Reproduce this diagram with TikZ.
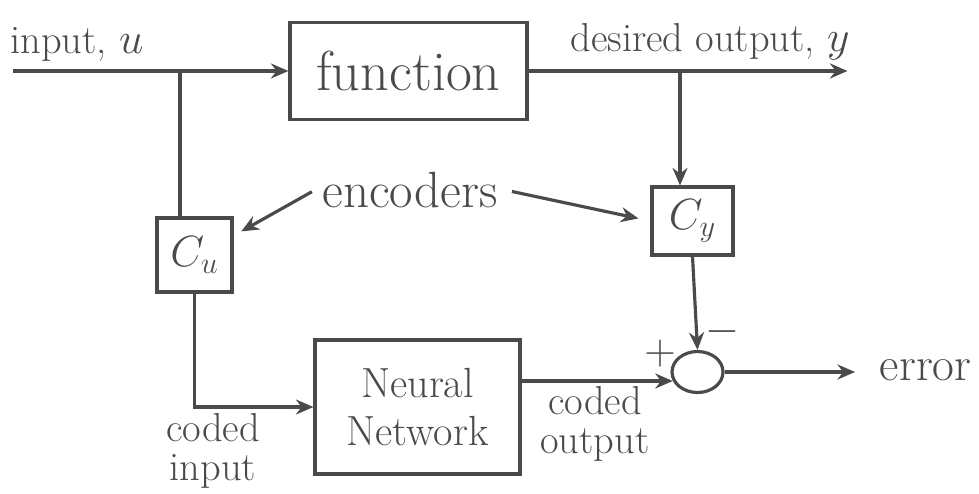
\documentclass[tikz,border=0pt]{standalone}
\usetikzlibrary{arrows.meta, shapes.geometric, calc}
\definecolor{cink}{HTML}{4A4A4A}
\tikzset{
  every picture/.style={line width=1.8pt},
  box/.style={draw=cink, line width=1.8pt, text=cink, inner sep=0pt, align=center, font=\fontsize{24}{27}\selectfont},
  arrow/.style={-{Stealth[length=3.5mm, width=3mm]}, draw=cink, line width=1.8pt},
  wire/.style={draw=cink, line width=1.8pt},
  note/.style={text=cink, font=\fontsize{23}{22}\selectfont, align=center},
}

\begin{document}
\begin{tikzpicture}[sum/.style={ellipse, draw=cink, line width=1.8pt, minimum width=1.02cm, minimum height=0.82cm, inner sep=0pt},
                    big/.style={font=\fontsize{32}{36}\selectfont}]
  \useasboundingbox (0,0) rectangle (19.58,9.86);
  % upper path: input -> function -> desired output
  \node[box, big, minimum width=4.74cm, minimum height=1.94cm] (fn) at (8.17,8.44) {function};
  \coordinate (in) at (0.26,8.44); \coordinate (out) at (16.95,8.44);
  \coordinate (ubr) at (3.6,8.44); \coordinate (ybr) at (13.6,8.44);
  \draw[arrow] (in) -- (fn);
  \draw[arrow] (fn) -- (out);
  \node[note] (inlbl) at (1.54,8.98) {input, $u$};
  \node[note] (ylbl) at (14.2,9.02) {desired output, $y$};
  % encoders
  \node[box, minimum width=1.5cm, minimum height=1.48cm] (cu) at (3.89,4.76) {$C_u$};
  \node[box, minimum width=1.62cm, minimum height=1.36cm] (cy) at (13.85,5.44) {$C_y$};
  \draw[wire] (ubr) -- (ubr |- cu.north);
  \draw[arrow] (ybr) -- (ybr |- cy.north);
  \node[note, font=\fontsize{29}{32}\selectfont] (enc) at (8.2,6.06) {encoders};
  \draw[arrow, shorten <=2pt, shorten >=5pt] (enc.west) -- ($(cu.east)!0.5!(cu.north east)$);
  \draw[arrow, shorten <=4pt, shorten >=7pt] (enc.east) -- (cy.west);
  % lower path: network and comparison
  \node[box, minimum width=4.1cm, minimum height=2.68cm] (nn) at (8.35,1.72) {Neural\\Network};
  \draw[arrow] (cu.south) |- (nn.west);
  \node[sum] (sum) at (13.95,2.42) {};
  \draw[arrow] (nn.east |- sum.200) -- (sum.200);
  \draw[arrow] (cy.south) -- (sum.north);
  \coordinate (err) at (17.1,2.42);
  \draw[arrow] (sum.east) -- (err);
  \node[note, anchor=west, font=\fontsize{27}{30}\selectfont] (errlbl) at (17.45,2.46) {error};
  \node[note] (plus) at (13.2,2.78) {$+$};
  \node[note] (minus) at (14.44,3.22) {$-$};
  \node[note] (cin) at (4.26,0.84) {coded\\input};
  \node[note] (cout) at (11.9,1.38) {coded\\output};
\end{tikzpicture}
\end{document}
